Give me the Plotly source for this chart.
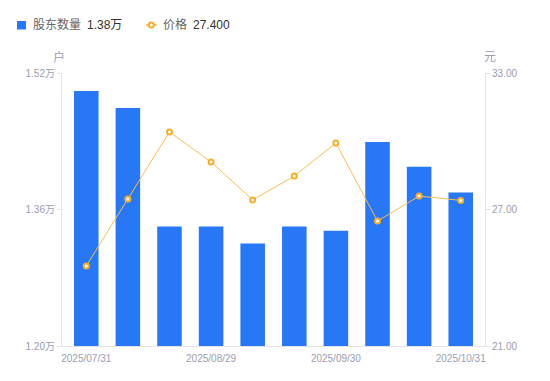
import plotly.graph_objects as go

dates = ["2025/07/31", "2025/08/08", "2025/08/20", "2025/08/29", "2025/09/10",
         "2025/09/19", "2025/09/30", "2025/10/10", "2025/10/20", "2025/10/31"]
holders_wan = [1.499, 1.479, 1.340, 1.340, 1.320, 1.340, 1.335, 1.439, 1.410, 1.380]
price = [24.52, 27.46, 30.41, 29.09, 27.42, 28.47, 29.92, 26.49, 27.59, 27.40]
x_tick_labels = ["2025/07/31", "2025/08/29", "2025/09/30", "2025/10/31"]
left_ticks = [1.20, 1.36, 1.52]
left_tick_text = ["1.20万", "1.36万", "1.52万"]
right_ticks = [21.0, 27.0, 33.0]
right_tick_text = ["21.00", "27.00", "33.00"]
legend_names = ["股东数量", "价格"]
legend_values = ["1.38万", "27.400"]

FONT = "Liberation Sans, Noto Sans CJK SC, sans-serif"
GRAY = "#9c9eb2"
AXIS = "#e3e3e8"
BLUE = "#2877F5"
ORANGE = "#F6AE2D"
LINE = "#F9BE55"

W, H = 550, 381
L, R, T, B = 62, 65, 73, 35
PW, PH = W - L - R, H - T - B


def px(x):
    return (x - L) / PW


def py(y):
    return (H - B - y) / PH


fig = go.Figure()
fig.add_trace(go.Bar(
    x=dates, y=holders_wan, name=legend_names[0],
    marker=dict(color=BLUE, line=dict(width=0)),
    yaxis="y", hoverinfo="skip",
))
fig.add_trace(go.Scatter(
    x=dates, y=price, name=legend_names[1],
    mode="lines+markers", yaxis="y2",
    line=dict(color=LINE, width=1),
    marker=dict(size=5, color="white", line=dict(color=ORANGE, width=2)),
    hoverinfo="skip",
))

ly = 25
annotations = [
    dict(text="户", xref="paper", yref="paper", x=px(58.5), y=py(57),
         xanchor="center", yanchor="middle",
         showarrow=False, font=dict(size=12, color=GRAY)),
    dict(text="元", xref="paper", yref="paper", x=px(490), y=py(57),
         xanchor="center", yanchor="middle",
         showarrow=False, font=dict(size=12, color=GRAY)),
    dict(text=legend_names[0], xref="paper", yref="paper", x=px(31), y=py(ly),
         xanchor="left", yanchor="middle", showarrow=False,
         font=dict(size=12, color="#666666")),
    dict(text=legend_values[0], xref="paper", yref="paper", x=px(85), y=py(ly),
         xanchor="left", yanchor="middle", showarrow=False,
         font=dict(size=12, color="#333333")),
    dict(text=legend_names[1], xref="paper", yref="paper", x=px(160.5), y=py(ly),
         xanchor="left", yanchor="middle", showarrow=False,
         font=dict(size=12, color="#666666")),
    dict(text=legend_values[1], xref="paper", yref="paper", x=px(191), y=py(ly),
         xanchor="left", yanchor="middle", showarrow=False,
         font=dict(size=12, color="#333333")),
]
shapes = [
    dict(type="rect", xref="paper", yref="paper", x0=px(17), x1=px(26),
         y0=py(21), y1=py(29.5), fillcolor=BLUE, line=dict(width=0)),
    dict(type="line", xref="paper", yref="paper", x0=px(146), x1=px(156.5),
         y0=py(ly), y1=py(ly), line=dict(color=ORANGE, width=1.5)),
    dict(type="circle", xref="paper", yref="paper", x0=px(148.8), x1=px(153.8),
         y0=py(ly + 2.5), y1=py(ly - 2.5), fillcolor="white",
         line=dict(color=ORANGE, width=2)),
]

fig.update_layout(
    width=W, height=H,
    margin=dict(l=L, r=R, t=T, b=B),
    paper_bgcolor="white", plot_bgcolor="white",
    font=dict(family=FONT, size=12, color="#666666"),
    bargap=0.41,
    showlegend=False,
    xaxis=dict(type="category", tickvals=x_tick_labels, ticktext=x_tick_labels,
               showgrid=False, showline=True, linecolor=AXIS, linewidth=1,
               ticks="", tickfont=dict(size=10, color=GRAY, family=FONT),
               ticklabelstandoff=3,
               zeroline=False, automargin=False),
    yaxis=dict(range=[1.20, 1.52], tickvals=left_ticks, ticktext=left_tick_text,
               showgrid=False, showline=True, linecolor=AXIS, linewidth=1,
               ticks="outside", ticklen=4, tickcolor=AXIS,
               tickfont=dict(size=10, color=GRAY, family=FONT), zeroline=False,
               automargin=False),
    yaxis2=dict(range=[21, 33], tickvals=right_ticks, ticktext=right_tick_text,
                overlaying="y", side="right",
                showgrid=False, showline=True, linecolor=AXIS, linewidth=1,
                ticks="outside", ticklen=4, tickcolor=AXIS,
                tickfont=dict(size=10, color=GRAY, family=FONT), zeroline=False,
                automargin=False),
    annotations=annotations,
    shapes=shapes,
)

fig.write_html("out.html", config={"displayModeBar": False, "staticPlot": True},
               post_script="document.body.style.margin='0';document.body.style.overflow='hidden';")
